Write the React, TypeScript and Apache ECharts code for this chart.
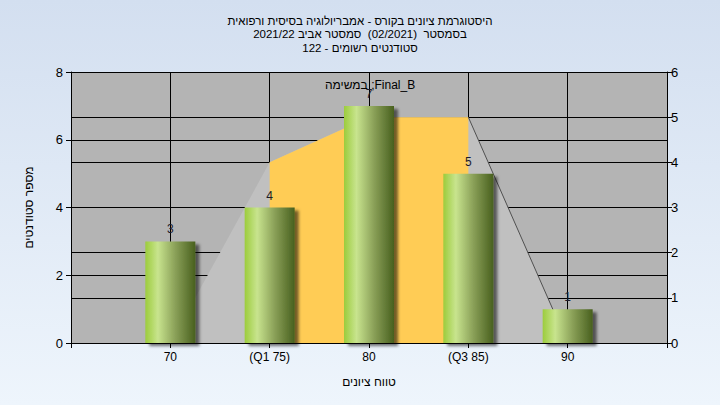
import React, { useEffect, useRef } from "react";
import * as echarts from "echarts";

const RLE = "\u202B";
const PDF = "\u202C";

const titleLines = [
  "היסטוגרמת ציונים בקורס - אמבריולוגיה בסיסית ורפואית",
  "בסמסטר  (02/2021)  סמסטר אביב 2021/22",
  "סטודנטים רשומים - 122",
];
const legendText = "במשימה ;Final_B";
const xAxisName = "טווח ציונים";
const yAxisName = "מספר סטודנטים";

const gradeValues = [70, 75, 80, 85, 90];
const gradeLabels: Record<number, string> = {
  70: "70",
  75: "(Q1 75)",
  80: "80",
  85: "(Q3 85)",
  90: "90",
};
const studentCounts = [3, 4, 7, 5, 1];
const distributionValues = [0, 4, 5, 5, 0];
const quartileStart = 1;
const quartileEnd = 3;

export default function App() {
  const ref = useRef<HTMLDivElement>(null);

  useEffect(() => {
    if (!ref.current) return;
    const chart = echarts.init(ref.current, null, { renderer: "svg" });
    const font = "'Liberation Sans', Arial, 'DejaVu Sans', sans-serif";

    const barData = gradeValues.map((g, i) => [g, studentCounts[i]]);
    const distData = gradeValues.map((g, i) => [g, distributionValues[i]]);
    const quartData = distData.slice(quartileStart, quartileEnd + 1);
    const tailData = distData.slice(quartileEnd);

    chart.setOption({
      animation: false,
      backgroundColor: "transparent",
      textStyle: { fontFamily: font },
      title: {
        text: titleLines.map((l) => RLE + l + PDF).join("\n"),
        left: "center",
        top: 9,
        textStyle: {
          fontSize: 11.5,
          fontWeight: "normal",
          color: "#000",
          lineHeight: 13.5,
          fontFamily: font,
        },
      },
      graphic: [
        {
          type: "text",
          left: 325,
          top: 79,
          style: {
            text: legendText,
            fontSize: 12,
            fill: "#000",
            fontFamily: font,
          },
          z: 100,
        },
      ],
      grid: {
        left: 71,
        right: 53,
        top: 72,
        bottom: 62,
        containLabel: false,
        show: true,
        backgroundColor: "#b4b4b4",
        borderWidth: 0,
      },
      xAxis: {
        type: "value",
        min: 65,
        max: 95,
        interval: 5,
        name: xAxisName,
        nameLocation: "middle",
        nameGap: 33,
        nameTextStyle: { color: "#000", fontSize: 12, fontFamily: font },
        axisLine: { show: true, lineStyle: { color: "#000", width: 1 } },
        axisTick: { show: true, length: 5, lineStyle: { color: "#000" } },
        axisLabel: {
          color: "#000",
          fontSize: 12,
          margin: 8,
          fontFamily: font,
          formatter: (v: number) => gradeLabels[v] ?? "",
        },
        splitLine: { show: true, lineStyle: { color: "#000", width: 1 } },
      },
      yAxis: [
        {
          type: "value",
          min: 0,
          max: 8,
          interval: 2,
          position: "left",
          name: yAxisName,
          nameLocation: "middle",
          nameGap: 36,
          nameRotate: 90,
          nameTextStyle: { color: "#000", fontSize: 12, fontFamily: font },
          axisLine: { show: true, lineStyle: { color: "#000", width: 1 } },
          axisTick: { show: true, length: 5, lineStyle: { color: "#000" } },
          axisLabel: { color: "#000", fontSize: 13, margin: 8, fontFamily: font },
          splitLine: { show: true, lineStyle: { color: "#000", width: 1 } },
        },
        {
          type: "value",
          min: 0,
          max: 6,
          interval: 1,
          position: "right",
          axisLine: { show: true, lineStyle: { color: "#000", width: 1 } },
          axisTick: { show: true, length: 5, lineStyle: { color: "#000" } },
          axisLabel: { color: "#000", fontSize: 13, margin: 4, fontFamily: font },
          splitLine: { show: true, lineStyle: { color: "#000", width: 1 } },
        },
      ],
      series: [
        {
          type: "line",
          yAxisIndex: 1,
          data: distData,
          symbol: "none",
          lineStyle: { width: 0 },
          areaStyle: { color: "#c0c0c0", opacity: 1 },
          z: 1,
          silent: true,
        },
        {
          type: "line",
          yAxisIndex: 1,
          data: quartData,
          symbol: "none",
          lineStyle: { width: 0 },
          areaStyle: { color: "#ffcc55", opacity: 1 },
          z: 2,
          silent: true,
        },
        {
          type: "line",
          yAxisIndex: 1,
          data: tailData,
          symbol: "none",
          lineStyle: { width: 1, color: "#505050" },
          z: 3,
          silent: true,
        },
        {
          type: "bar",
          yAxisIndex: 0,
          data: barData,
          barWidth: 50,
          z: 5,
          itemStyle: {
            color: new echarts.graphic.LinearGradient(0, 0, 1, 0, [
              { offset: 0, color: "#9ccc3c" },
              { offset: 0.25, color: "#c8e48e" },
              { offset: 0.6, color: "#8aa058" },
              { offset: 1, color: "#48601e" },
            ]),
            shadowColor: "rgba(0,0,0,0.55)",
            shadowBlur: 3,
            shadowOffsetX: 4,
            shadowOffsetY: 3,
          },
          label: {
            show: true,
            position: "top",
            distance: 6,
            color: "#1a1a2a",
            fontSize: 12,
            fontFamily: font,
          },
        },
      ],
    });

    return () => chart.dispose();
  }, []);

  return (
    <div
      style={{
        position: "fixed",
        left: 0,
        top: 0,
        width: 720,
        height: 405,
        background: "linear-gradient(to bottom, #d3dff0 0%, #eef5fc 100%)",
      }}
    >
      <div ref={ref} style={{ width: 720, height: 405 }} />
    </div>
  );
}
